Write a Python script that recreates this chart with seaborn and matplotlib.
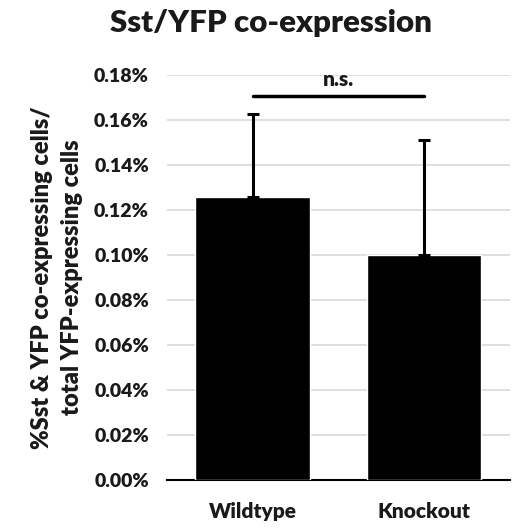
import pandas as pd
import matplotlib
matplotlib.use("Agg")
import matplotlib.pyplot as plt
import seaborn as sns
from matplotlib.ticker import FuncFormatter

# Valeurs
genotypes = ["Wildtype", "Knockout"]
coexpression = [0.1259, 0.0998]   # % moyen
sem_upper = [0.0368, 0.0514]      # barre d'erreur (haut seulement)
ns_level = 0.1705

df = pd.DataFrame({"Genotype": genotypes, "Pct": coexpression})

sns.set_theme(style="white")
plt.rcParams["font.family"] = ["Lato", "DejaVu Sans"]
plt.rcParams["font.weight"] = "heavy"

fig = plt.figure(figsize=(5.13, 5.28), dpi=100)
ax = fig.add_axes([0.3255, 0.0909, 0.668, 0.767])

sns.barplot(data=df, x="Genotype", y="Pct", color="black", width=0.67,
            errorbar=None, ax=ax, zorder=3)
ax.errorbar(range(len(genotypes)), coexpression, yerr=[[0, 0], sem_upper],
            fmt="none", ecolor="black", elinewidth=2.2, capsize=4, capthick=2.2, zorder=4)

# barre de significativité
ax.plot([0, 1], [ns_level, ns_level], color="black", lw=2.5, zorder=4)
ax.text(0.5, ns_level + 0.0075, "n.s.", ha="center", va="center",
        fontsize=15, fontweight="heavy", color="#1a1a1a")

ax.set_ylim(0, 0.18)
ax.set_xlim(-0.5, 1.5)
ax.set_yticks([i * 0.02 for i in range(10)])
ax.yaxis.set_major_formatter(FuncFormatter(lambda v, p: f"{v:.2f}%"))
ax.grid(axis="y", color="#d9d9d9", lw=1.2, zorder=0)
ax.set_axisbelow(True)
for s in ["left", "right", "top"]:
    ax.spines[s].set_visible(False)
ax.spines["bottom"].set_color("black")
ax.spines["bottom"].set_linewidth(1.5)
ax.tick_params(axis="y", length=0, labelsize=14, colors="#1a1a1a", pad=13)
ax.tick_params(axis="x", length=0, labelsize=15, colors="#1a1a1a", pad=16)
for lab in ax.get_xticklabels() + ax.get_yticklabels():
    lab.set_fontweight("heavy")

ax.set_xlabel("")
ax.set_ylabel("%Sst & YFP co-expressing cells/\ntotal YFP-expressing cells",
              fontsize=17, fontweight="heavy", color="#1a1a1a", labelpad=8,
              linespacing=1.45)
fig.text(0.528, 0.957, "Sst/YFP co-expression", ha="center", va="center",
         fontsize=22.5, fontweight="heavy", color="#1a1a1a")

fig.savefig("out.png", dpi=100)
